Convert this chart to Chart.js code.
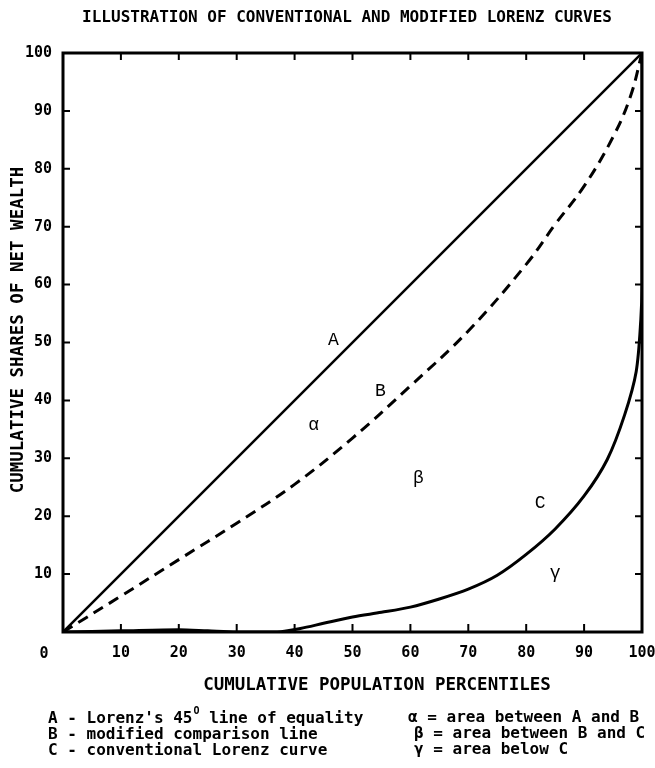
<!DOCTYPE html>
<html>
<head>
<meta charset="utf-8">
<title>Lorenz curves</title>
<script src="https://cdn.jsdelivr.net/npm/chart.js@4.4.1/dist/chart.umd.min.js"></script>
<style>
  html, body { margin: 0; padding: 0; background: #fff; }
  #wrap { width: 655px; height: 768px; }
</style>
</head>
<body>
<div id="wrap"><canvas id="lorenz" width="655" height="768"></canvas></div>
<script>
// A - line of equality
const popA = [0, 100];
const shareA = [0, 100];

// B - modified comparison line (dashed)
const popB = [0, 10, 20, 30, 40, 50, 60, 70, 80, 85, 90, 95, 98, 100];
const shareB = [0, 6.2, 12.5, 18.8, 25.5, 33.5, 42.5, 52, 63.5, 70.4, 77, 85.5, 92.5, 100];

// C - conventional Lorenz curve
const popC = [0, 10, 20, 25, 30, 37, 41, 45, 50, 55, 60, 65, 70, 75, 80, 85, 90, 94, 97, 99, 99.8, 100, 100];
const shareC = [0, 0.2, 0.4, 0.2, 0, 0, 0.6, 1.5, 2.6, 3.4, 4.3, 5.7, 7.4, 9.8, 13.4, 17.8, 23.5, 29.8, 37.5, 45, 54, 60, 100];

const tickValues = [10, 20, 30, 40, 50, 60, 70, 80, 90];

// letters placed inside the plot, in data units
const markNames = ['A', 'α', 'B', 'β', 'C', 'γ'];
const markX = [46.7, 43.3, 54.8, 61.4, 82.4, 85];
const markY = [50.4, 35.7, 41.5, 26.6, 22.3, 10.2];

const legendLeft = ["A - Lorenz's 45", "B - modified comparison line", "C - conventional Lorenz curve"];
const legendRight = ["α = area between A and B", "β = area between B and C", "γ = area below C"];

function pairs(xs, ys) {
    return xs.map((x, i) => ({ x: x, y: ys[i] }));
}

const MONO = '"DejaVu Sans Mono", monospace';

const decorPlugin = {
    id: 'decor',
    afterDraw(chart) {
        const ctx = chart.ctx;
        const { left, right, top, bottom } = chart.chartArea;
        const xs = chart.scales.x;
        const ys = chart.scales.y;
        ctx.save();
        ctx.strokeStyle = '#000';
        ctx.fillStyle = '#000';

        // frame
        ctx.lineWidth = 3;
        ctx.strokeRect(left, top, right - left, bottom - top);

        // inward tick marks on all four sides
        ctx.lineWidth = 2;
        ctx.beginPath();
        tickValues.forEach(v => {
            const px = xs.getPixelForValue(v);
            const py = ys.getPixelForValue(v);
            ctx.moveTo(px, bottom); ctx.lineTo(px, bottom - 8);
            ctx.moveTo(px, top); ctx.lineTo(px, top + 7);
            ctx.moveTo(left, py); ctx.lineTo(left + 7, py);
            ctx.moveTo(right, py); ctx.lineTo(right - 7, py);
        });
        ctx.stroke();

        // "0" at the origin, set off to the left as in the print
        ctx.font = 'bold 15px ' + MONO;
        ctx.textAlign = 'center';
        ctx.textBaseline = 'alphabetic';
        ctx.fillText('0', 44, 658);

        // title
        ctx.font = 'bold 16px ' + MONO;
        ctx.fillText('ILLUSTRATION OF CONVENTIONAL AND MODIFIED LORENZ CURVES', 347, 22);

        // axis titles
        ctx.font = 'bold 17.5px ' + MONO;
        ctx.fillText('CUMULATIVE POPULATION PERCENTILES', 377, 690);
        ctx.save();
        ctx.translate(23, 330);
        ctx.rotate(-Math.PI / 2);
        ctx.font = 'bold 17.5px ' + MONO;
        ctx.fillText('CUMULATIVE SHARES OF NET WEALTH', 0, 0);
        ctx.restore();

        // letters in the plot
        ctx.font = '18px "Liberation Mono", monospace';
        ctx.textBaseline = 'middle';
        markNames.forEach((t, i) => {
            ctx.fillText(t, xs.getPixelForValue(markX[i]), ys.getPixelForValue(markY[i]));
        });

        // key below the chart
        ctx.textAlign = 'left';
        ctx.textBaseline = 'alphabetic';
        ctx.font = 'bold 16px ' + MONO;
        const rowY = [723, 739, 755];
        legendLeft.forEach((t, i) => ctx.fillText(t, 48, rowY[i]));
        const w45 = ctx.measureText(legendLeft[0]).width;
        ctx.font = 'bold 10px ' + MONO;
        ctx.fillText('O', 48 + w45 + 1, 714);
        const wO = ctx.measureText('O').width;
        ctx.font = 'bold 16px ' + MONO;
        ctx.fillText(' line of equality', 48 + w45 + wO + 1, rowY[0]);

        ctx.font = 'bold 16px ' + MONO;
        const rightX = [408, 414, 414];
        const rightY = [722, 738, 754];
        legendRight.forEach((t, i) => ctx.fillText(t, rightX[i], rightY[i]));
        ctx.restore();
    }
};

new Chart(document.getElementById('lorenz').getContext('2d'), {
    type: 'line',
    data: {
        datasets: [
            {
                label: 'A',
                data: pairs(popA, shareA),
                borderColor: '#000',
                borderWidth: 2.5,
                pointRadius: 0,
                tension: 0
            },
            {
                label: 'B',
                data: pairs(popB, shareB),
                borderColor: '#000',
                borderWidth: 3,
                borderDash: [11, 7],
                pointRadius: 0,
                tension: 0.4
            },
            {
                label: 'C',
                data: pairs(popC, shareC),
                borderColor: '#000',
                borderWidth: 3,
                pointRadius: 0,
                tension: 0.3
            }
        ]
    },
    options: {
        responsive: false,
        animation: false,
        devicePixelRatio: 1,
        layout: { padding: { left: 0, top: 53, right: 13, bottom: 96 } },
        plugins: {
            legend: { display: false },
            tooltip: { enabled: false }
        },
        scales: {
            x: {
                type: 'linear',
                min: 0,
                max: 100,
                afterFit: s => { s.height = 40; s.paddingLeft = 0; s.paddingRight = 0; },
                grid: { display: false, drawTicks: false },
                border: { display: false },
                ticks: {
                    stepSize: 10,
                    autoSkip: false,
                    maxRotation: 0,
                    padding: 12,
                    color: '#000',
                    font: { family: 'DejaVu Sans Mono', size: 15, weight: 'bold' },
                    callback: v => (v === 0 ? '' : v)
                }
            },
            y: {
                type: 'linear',
                min: 0,
                max: 100,
                afterFit: s => { s.width = 63; s.paddingTop = 0; s.paddingBottom = 0; },
                grid: { display: false, drawTicks: false },
                border: { display: false },
                ticks: {
                    stepSize: 10,
                    autoSkip: false,
                    padding: 11,
                    color: '#000',
                    font: { family: 'DejaVu Sans Mono', size: 15, weight: 'bold' },
                    callback: v => (v === 0 ? '' : v)
                }
            }
        }
    },
    plugins: [decorPlugin]
});
</script>
</body>
</html>
